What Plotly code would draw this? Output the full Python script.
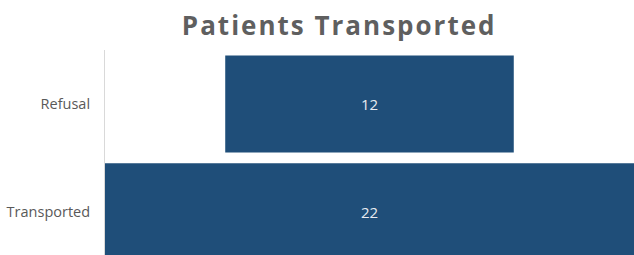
import plotly.graph_objects as go

categories = ["Refusal", "Transported"]
values = [12, 22]

fig = go.Figure(go.Funnel(
    y=categories,
    x=values,
    marker=dict(color="#1F4E79", line=dict(width=0)),
    connector=dict(visible=False),
    textinfo="value",
    textposition="inside",
    insidetextfont=dict(color="#E8ECF2", size=15, family="Open Sans"),
    textfont=dict(color="#E8ECF2", size=15, family="Open Sans"),
    hoverinfo="skip",
))

fig.update_layout(
    width=634, height=255,
    margin=dict(l=105, r=0, t=50, b=0, autoexpand=False),
    paper_bgcolor="white", plot_bgcolor="white",
    showlegend=False,
    funnelgap=0.1,
    title=dict(
        text="<span style='letter-spacing:2px'><b>Patients Transported</b></span>",
        x=0.535, xanchor="center", y=0.9, yanchor="middle",
        font=dict(family="Open Sans", size=26, color="#5F5F5F"),
    ),
    xaxis=dict(visible=False, range=[-11, 11]),
    yaxis=dict(
        range=[1.4, -0.5],
        showline=True, linecolor="#D9D9D9", linewidth=1,
        ticks="", showgrid=False, automargin=False,
        tickfont=dict(family="Open Sans", size=14.5, color="#595959"),
        ticklabelstandoff=11,
    ),
)

fig.write_html("out.html", config={"displayModeBar": False},
               post_script="document.body.style.margin='0';")
